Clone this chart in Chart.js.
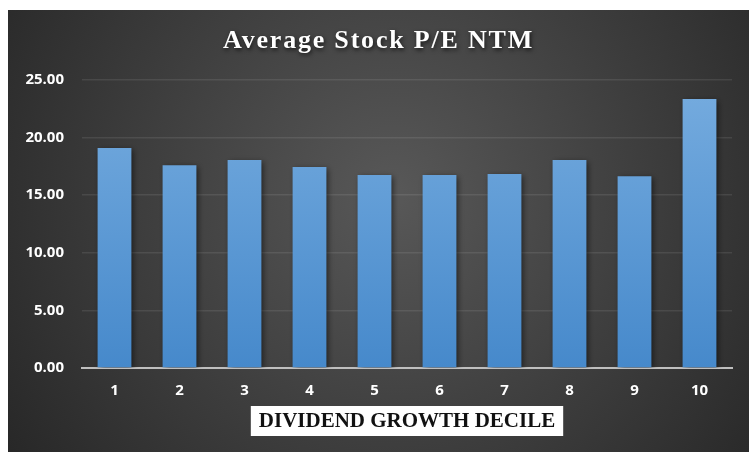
<!DOCTYPE html>
<html lang="en">
<head>
    <meta charset="UTF-8">
    <title>Average Stock P/E NTM</title>
    <script src="https://cdn.jsdelivr.net/npm/chart.js"></script>
    <style>
        html, body { margin: 0; padding: 0; background: #ffffff; }
        #wrap { position: absolute; left: 8px; top: 10px; width: 741px; height: 442px; }
    </style>
</head>
<body>
    <div id="wrap"><canvas id="peChart"></canvas></div>

    <script>
        // Dane wykresu
        const deciles = ['1', '2', '3', '4', '5', '6', '7', '8', '9', '10'];
        const peValues = [19.1, 17.6, 18.05, 17.45, 16.75, 16.75, 16.85, 18.05, 16.65, 23.35];
        const yTicks = [0, 5, 10, 15, 20, 25];
        const chartTitle = 'Average Stock P/E NTM';
        const xTitle = 'DIVIDEND GROWTH DECILE';

        // Tło, tytuł i podpis osi X
        const decor = {
            id: 'decor',
            beforeDraw(chart) {
                const { ctx, width, height } = chart;
                ctx.save();
                const g = ctx.createRadialGradient(width * 0.52, height * 0.42, 10, width * 0.52, height * 0.42, width * 0.62);
                g.addColorStop(0, '#575757');
                g.addColorStop(1, '#282828');
                ctx.fillStyle = g;
                ctx.fillRect(0, 0, width, height);
                ctx.restore();
            },
            beforeDatasetsDraw(chart) {
                const ctx = chart.ctx;
                ctx.save();
                ctx.shadowColor = 'rgba(0,0,0,0.55)';
                ctx.shadowBlur = 6;
                ctx.shadowOffsetX = 2;
                ctx.shadowOffsetY = 2;
            },
            afterDatasetsDraw(chart) {
                chart.ctx.restore();
            },
            afterDraw(chart) {
                const { ctx, chartArea, width } = chart;
                ctx.save();
                // tytuł
                ctx.font = 'bold 26px "Liberation Serif"';
                ctx.letterSpacing = '1.8px';
                ctx.fillStyle = '#ffffff';
                ctx.textAlign = 'center';
                ctx.textBaseline = 'alphabetic';
                ctx.shadowColor = 'rgba(0,0,0,0.7)';
                ctx.shadowBlur = 4;
                ctx.shadowOffsetX = 1;
                ctx.shadowOffsetY = 2;
                ctx.fillText(chartTitle, width / 2, 38);
                ctx.restore();

                // podpis osi X w białej ramce
                const cx = (chartArea.left + chartArea.right) / 2;
                ctx.save();
                ctx.font = 'bold 21px "Liberation Serif"';
                const w = ctx.measureText(xTitle).width + 16;
                ctx.fillStyle = '#ffffff';
                ctx.fillRect(cx - w / 2, 396, w, 30);
                ctx.fillStyle = '#111111';
                ctx.textAlign = 'center';
                ctx.textBaseline = 'middle';
                ctx.fillText(xTitle, cx, 412);
                ctx.restore();
            }
        };

        const ctx = document.getElementById('peChart').getContext('2d');
        new Chart(ctx, {
            type: 'bar',
            data: {
                labels: deciles,
                datasets: [{
                    data: peValues,
                    backgroundColor: function (c) {
                        const area = c.chart.chartArea;
                        if (!area) return '#5b9bd5';
                        const g = c.chart.ctx.createLinearGradient(0, area.top, 0, area.bottom);
                        g.addColorStop(0, '#76acdf');
                        g.addColorStop(1, '#4689cb');
                        return g;
                    },
                    borderWidth: 0,
                    barPercentage: 0.52,
                    categoryPercentage: 1.0
                }]
            },
            options: {
                responsive: true,
                maintainAspectRatio: false,
                animation: false,
                layout: { padding: { top: 70, right: 17, left: 0, bottom: 0 } },
                plugins: {
                    legend: { display: false },
                    tooltip: { enabled: false }
                },
                scales: {
                    x: {
                        afterFit: s => { s.height = 84; },
                        grid: { display: false, drawTicks: false },
                        border: { display: true, color: '#bfbfbf', width: 2 },
                        ticks: {
                            color: '#ffffff',
                            padding: 14,
                            font: { family: '"Open Sans"', size: 15, weight: 'bold' }
                        }
                    },
                    y: {
                        min: 0,
                        max: 25,
                        afterFit: s => { s.width = 74; },
                        afterBuildTicks: s => { s.ticks = yTicks.map(v => ({ value: v })); },
                        grid: { color: 'rgba(255,255,255,0.09)', lineWidth: 1.5, drawTicks: false },
                        border: { display: false },
                        ticks: {
                            color: '#ffffff',
                            padding: 18,
                            callback: v => Number(v).toFixed(2),
                            font: { family: '"Open Sans"', size: 15, weight: 'bold' }
                        }
                    }
                }
            },
            plugins: [decor]
        });
    </script>
</body>
</html>
